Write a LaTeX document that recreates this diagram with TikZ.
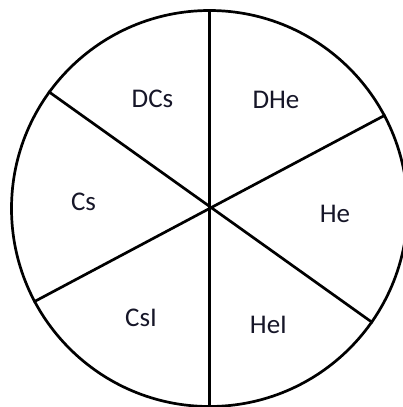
\documentclass[tikz,border=0pt]{standalone}
\usepackage{fontspec}
\setmainfont{Carlito}
\usepackage{xcolor}
\usetikzlibrary{positioning, calc}
\definecolor{labelink}{RGB}{22,22,40}
\tikzset{
  wheel/.style={
    circle, draw, line width=2.7pt,
    minimum size=396pt, inner sep=0pt
  },
  spoke/.style={draw, line width=2.7pt},
  sector/.style={
    text=labelink, inner sep=0pt,
    font=\fontsize{27}{31}\selectfont
  },
}

\begin{document}
\begin{tikzpicture}[x=1pt, y=1pt]
  \useasboundingbox (0,0) rectangle (402,407);

  % Circle
  \node[wheel] (disc) at (209.5,198.5) {};

  % Spokes
  \draw[spoke] (disc.90) -- (disc.-90);
  \draw[spoke] (disc.144) -- (disc.-35.7);
  \draw[spoke] (disc.208.2) -- (disc.28.2);

  % Sectors
  \node[sector] (dcs) at (152.5,308) {DCs};
  \node[sector] (dhe) at (276,307.5) {DHe};
  \node[sector] (he)  at (335,193) {He};
  \node[sector] (hei) at (268.5,82) {HeI};
  \node[sector] (csi) at (141,89) {CsI};
  \node[sector] (cs)  at (83.5,205) {Cs};
\end{tikzpicture}
\end{document}
